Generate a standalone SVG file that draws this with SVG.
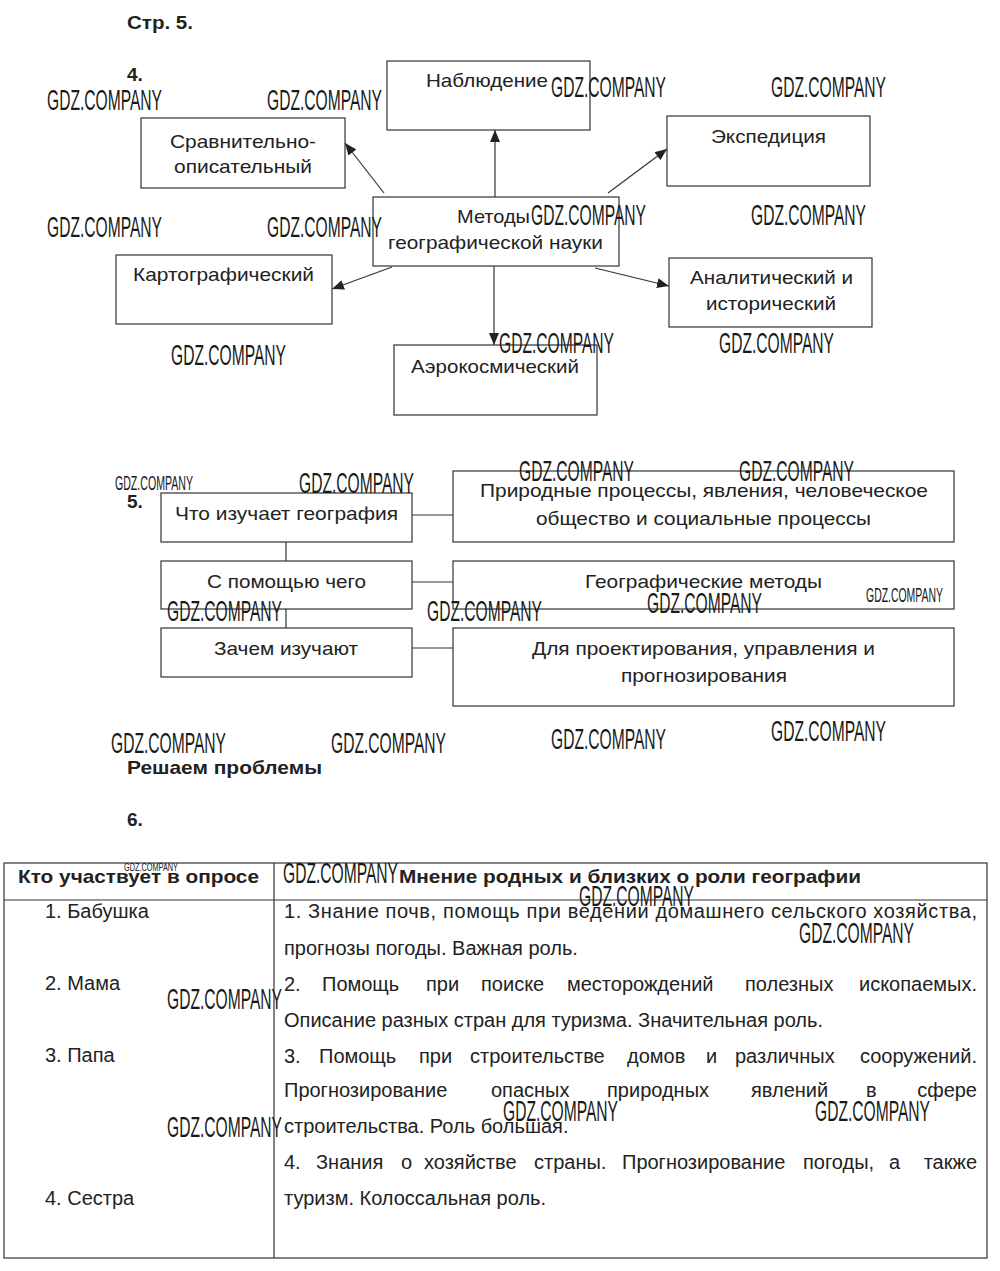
<svg xmlns="http://www.w3.org/2000/svg" width="1000" height="1271" viewBox="0 0 1000 1271">
<defs>
<style>
.t{font-family:"Liberation Sans",Arial,sans-serif;font-size:19px;fill:#222}
.tb{font-family:"Liberation Sans",Arial,sans-serif;font-size:19px;font-weight:bold;fill:#222}
.tt{font-family:"Liberation Sans",Arial,sans-serif;font-size:20px;fill:#222}
.box{fill:none;stroke:#333;stroke-width:1.2}
.ln{fill:none;stroke:#333;stroke-width:1.2}
.wm{font-family:"Liberation Sans",Arial,sans-serif;font-size:29px;fill:#1a1a1a}
.wms{font-family:"Liberation Sans",Arial,sans-serif;font-size:20px;fill:#1a1a1a}
.wmt{font-family:"Liberation Sans",Arial,sans-serif;font-size:11px;fill:#1a1a1a}
</style>
<marker id="ah" viewBox="0 0 12 10" refX="12" refY="5" markerWidth="12" markerHeight="10" orient="auto" markerUnits="userSpaceOnUse">
<path d="M0,0 L12,5 L0,10 z" fill="#222"/>
</marker>
</defs>
<rect width="1000" height="1271" fill="#fff"/>

<g id="headings">
<text class="tb" x="127" y="29" textLength="66" lengthAdjust="spacingAndGlyphs">Стр. 5.</text>
<text class="tb" x="127" y="81">4.</text>
<text class="tb" x="127" y="508">5.</text>
<text class="tb" x="127" y="774" textLength="195" lengthAdjust="spacingAndGlyphs">Решаем проблемы</text>
<text class="tb" x="127" y="826">6.</text>
</g>

<g id="connectors">
<line class="ln" x1="495" y1="197" x2="495" y2="130" marker-end="url(#ah)"/>
<line class="ln" x1="384" y1="193" x2="345" y2="143" marker-end="url(#ah)"/>
<line class="ln" x1="608" y1="193" x2="667" y2="149" marker-end="url(#ah)"/>
<line class="ln" x1="392" y1="267" x2="332" y2="289" marker-end="url(#ah)"/>
<line class="ln" x1="595" y1="268" x2="669" y2="286" marker-end="url(#ah)"/>
<line class="ln" x1="494" y1="266" x2="494" y2="345" marker-end="url(#ah)"/>
<line class="ln" x1="286" y1="542" x2="286" y2="561"/>
<line class="ln" x1="286" y1="609" x2="286" y2="628"/>
<line class="ln" x1="412" y1="515" x2="453" y2="515"/>
<line class="ln" x1="412" y1="582" x2="453" y2="582"/>
<line class="ln" x1="412" y1="648" x2="453" y2="648"/>
</g>

<g id="n-nabl">
<rect class="box" x="387" y="61" width="203" height="69"/>
<text class="t" x="426" y="87" textLength="122" lengthAdjust="spacingAndGlyphs">Наблюдение</text>
</g>
<g id="n-sravn">
<rect class="box" x="141" y="118" width="204" height="70"/>
<text class="t" x="170" y="148" textLength="146" lengthAdjust="spacingAndGlyphs">Сравнительно-</text>
<text class="t" x="174" y="173" textLength="138" lengthAdjust="spacingAndGlyphs">описательный</text>
</g>
<g id="n-eksp">
<rect class="box" x="667" y="116" width="203" height="70"/>
<text class="t" x="711" y="143" textLength="115" lengthAdjust="spacingAndGlyphs">Экспедиция</text>
</g>
<g id="n-metody">
<rect class="box" x="373" y="197" width="246" height="69"/>
<text class="t" x="457" y="223" textLength="73" lengthAdjust="spacingAndGlyphs">Методы</text>
<text class="t" x="388" y="249" textLength="215" lengthAdjust="spacingAndGlyphs">географической науки</text>
</g>
<g id="n-karto">
<rect class="box" x="116" y="255" width="216" height="69"/>
<text class="t" x="133" y="281" textLength="181" lengthAdjust="spacingAndGlyphs">Картографический</text>
</g>
<g id="n-anal">
<rect class="box" x="669" y="258" width="203" height="69"/>
<text class="t" x="690" y="284" textLength="163" lengthAdjust="spacingAndGlyphs">Аналитический и</text>
<text class="t" x="706" y="310" textLength="130" lengthAdjust="spacingAndGlyphs">исторический</text>
</g>
<g id="n-aero">
<rect class="box" x="394" y="345" width="203" height="70"/>
<text class="t" x="411" y="373" textLength="168" lengthAdjust="spacingAndGlyphs">Аэрокосмический</text>
</g>

<g id="n-chto">
<rect class="box" x="161" y="493" width="251" height="49"/>
<text class="t" x="175" y="520" textLength="223" lengthAdjust="spacingAndGlyphs">Что изучает география</text>
</g>
<g id="n-spom">
<rect class="box" x="161" y="561" width="251" height="48"/>
<text class="t" x="207" y="588" textLength="159" lengthAdjust="spacingAndGlyphs">С помощью чего</text>
</g>
<g id="n-zachem">
<rect class="box" x="161" y="628" width="251" height="49"/>
<text class="t" x="214" y="655" textLength="144" lengthAdjust="spacingAndGlyphs">Зачем изучают</text>
</g>
<g id="n-prir">
<rect class="box" x="453" y="471" width="501" height="71"/>
<text class="t" x="480" y="497" textLength="448" lengthAdjust="spacingAndGlyphs">Природные процессы, явления, человеческое</text>
<text class="t" x="536" y="525" textLength="335" lengthAdjust="spacingAndGlyphs">общество и социальные процессы</text>
</g>
<g id="n-geom">
<rect class="box" x="453" y="561" width="501" height="48"/>
<text class="t" x="585" y="588" textLength="237" lengthAdjust="spacingAndGlyphs">Географические методы</text>
</g>
<g id="n-dlya">
<rect class="box" x="453" y="628" width="501" height="78"/>
<text class="t" x="532" y="655" textLength="343" lengthAdjust="spacingAndGlyphs">Для проектирования, управления и</text>
<text class="t" x="621" y="682" textLength="166" lengthAdjust="spacingAndGlyphs">прогнозирования</text>
</g>

<g id="table">
<rect class="box" x="4" y="863" width="983" height="395"/>
<line class="ln" x1="4" y1="900" x2="987" y2="900"/>
<line class="ln" x1="274" y1="863" x2="274" y2="1258"/>
<text class="tb" x="18" y="883" textLength="241" lengthAdjust="spacingAndGlyphs">Кто участвует в опросе</text>
<text class="tb" x="399" y="883" textLength="462" lengthAdjust="spacingAndGlyphs">Мнение родных и близких о роли географии</text>
<text class="tt" x="45" y="918">1. Бабушка</text>
<text class="tt" x="45" y="990">2. Мама</text>
<text class="tt" x="45" y="1062">3. Папа</text>
<text class="tt" x="45" y="1205">4. Сестра</text>
<text class="tt" x="284" y="918" textLength="693" lengthAdjust="spacing">1. Знание почв, помощь при ведении домашнего сельского хозяйства,</text>
<text class="tt" x="284" y="955">прогнозы погоды. Важная роль.</text>
<text class="tt" y="991"><tspan x="284">2.</tspan><tspan x="322">Помощь</tspan><tspan x="426">при</tspan><tspan x="481">поиске</tspan><tspan x="567">месторождений</tspan><tspan x="745">полезных</tspan></text>
<text class="tt" x="977" y="991" text-anchor="end">ископаемых.</text>
<text class="tt" x="284" y="1027">Описание разных стран для туризма. Значительная роль.</text>
<text class="tt" y="1063"><tspan x="284">3.</tspan><tspan x="319">Помощь</tspan><tspan x="419">при</tspan><tspan x="470">строительстве</tspan><tspan x="627">домов</tspan><tspan x="706">и</tspan><tspan x="735">различных</tspan></text>
<text class="tt" x="977" y="1063" text-anchor="end">сооружений.</text>
<text class="tt" y="1097"><tspan x="284">Прогнозирование</tspan><tspan x="491">опасных</tspan><tspan x="607">природных</tspan><tspan x="751">явлений</tspan><tspan x="866">в</tspan></text>
<text class="tt" x="977" y="1097" text-anchor="end">сфере</text>
<text class="tt" x="284" y="1133">строительства. Роль большая.</text>
<text class="tt" y="1169"><tspan x="284">4.</tspan><tspan x="316">Знания</tspan><tspan x="401">о</tspan><tspan x="424">хозяйстве</tspan><tspan x="534">страны.</tspan><tspan x="622">Прогнозирование</tspan><tspan x="803">погоды,</tspan><tspan x="889">а</tspan></text>
<text class="tt" x="977" y="1169" text-anchor="end">также</text>
<text class="tt" x="284" y="1205">туризм. Колоссальная роль.</text>
</g>

<g id="watermarks">
<text class="wm" x="47" y="110" textLength="115" lengthAdjust="spacingAndGlyphs">GDZ.COMPANY</text>
<text class="wm" x="267" y="110" textLength="115" lengthAdjust="spacingAndGlyphs">GDZ.COMPANY</text>
<text class="wm" x="551" y="97" textLength="115" lengthAdjust="spacingAndGlyphs">GDZ.COMPANY</text>
<text class="wm" x="771" y="97" textLength="115" lengthAdjust="spacingAndGlyphs">GDZ.COMPANY</text>
<text class="wm" x="47" y="237" textLength="115" lengthAdjust="spacingAndGlyphs">GDZ.COMPANY</text>
<text class="wm" x="267" y="237" textLength="115" lengthAdjust="spacingAndGlyphs">GDZ.COMPANY</text>
<text class="wm" x="531" y="225" textLength="115" lengthAdjust="spacingAndGlyphs">GDZ.COMPANY</text>
<text class="wm" x="751" y="225" textLength="115" lengthAdjust="spacingAndGlyphs">GDZ.COMPANY</text>
<text class="wm" x="171" y="365" textLength="115" lengthAdjust="spacingAndGlyphs">GDZ.COMPANY</text>
<text class="wm" x="499" y="353" textLength="115" lengthAdjust="spacingAndGlyphs">GDZ.COMPANY</text>
<text class="wm" x="719" y="353" textLength="115" lengthAdjust="spacingAndGlyphs">GDZ.COMPANY</text>
<text class="wms" x="115" y="490" textLength="78" lengthAdjust="spacingAndGlyphs">GDZ.COMPANY</text>
<text class="wm" x="299" y="493" textLength="115" lengthAdjust="spacingAndGlyphs">GDZ.COMPANY</text>
<text class="wm" x="519" y="481" textLength="115" lengthAdjust="spacingAndGlyphs">GDZ.COMPANY</text>
<text class="wm" x="739" y="481" textLength="115" lengthAdjust="spacingAndGlyphs">GDZ.COMPANY</text>
<text class="wm" x="167" y="621" textLength="115" lengthAdjust="spacingAndGlyphs">GDZ.COMPANY</text>
<text class="wm" x="427" y="621" textLength="115" lengthAdjust="spacingAndGlyphs">GDZ.COMPANY</text>
<text class="wm" x="647" y="613" textLength="115" lengthAdjust="spacingAndGlyphs">GDZ.COMPANY</text>
<text class="wms" x="866" y="602" textLength="77" lengthAdjust="spacingAndGlyphs">GDZ.COMPANY</text>
<text class="wm" x="111" y="753" textLength="115" lengthAdjust="spacingAndGlyphs">GDZ.COMPANY</text>
<text class="wm" x="331" y="753" textLength="115" lengthAdjust="spacingAndGlyphs">GDZ.COMPANY</text>
<text class="wm" x="551" y="749" textLength="115" lengthAdjust="spacingAndGlyphs">GDZ.COMPANY</text>
<text class="wm" x="771" y="741" textLength="115" lengthAdjust="spacingAndGlyphs">GDZ.COMPANY</text>
<text class="wmt" x="124" y="871" textLength="54" lengthAdjust="spacingAndGlyphs">GDZ.COMPANY</text>
<text class="wm" x="283" y="883" textLength="115" lengthAdjust="spacingAndGlyphs">GDZ.COMPANY</text>
<text class="wm" x="579" y="906" textLength="115" lengthAdjust="spacingAndGlyphs">GDZ.COMPANY</text>
<text class="wm" x="799" y="943" textLength="115" lengthAdjust="spacingAndGlyphs">GDZ.COMPANY</text>
<text class="wm" x="167" y="1009" textLength="115" lengthAdjust="spacingAndGlyphs">GDZ.COMPANY</text>
<text class="wm" x="503" y="1121" textLength="115" lengthAdjust="spacingAndGlyphs">GDZ.COMPANY</text>
<text class="wm" x="815" y="1121" textLength="115" lengthAdjust="spacingAndGlyphs">GDZ.COMPANY</text>
<text class="wm" x="167" y="1137" textLength="115" lengthAdjust="spacingAndGlyphs">GDZ.COMPANY</text>
</g>
</svg>
